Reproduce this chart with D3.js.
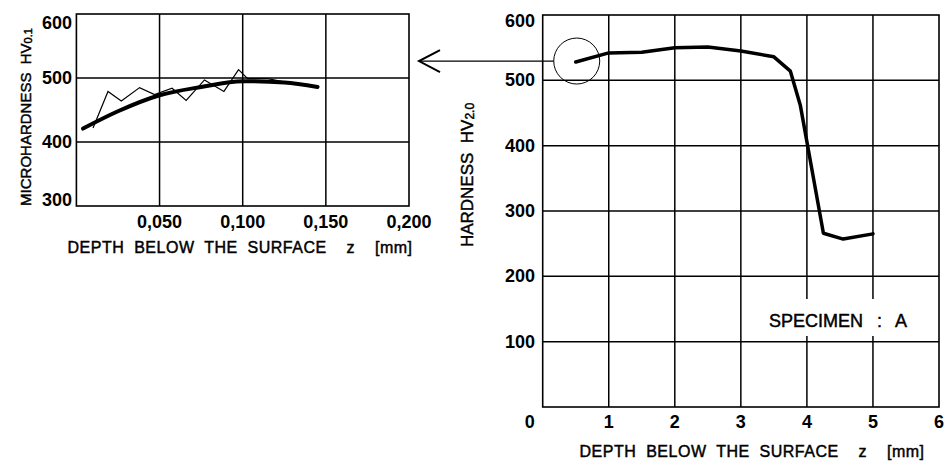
<!DOCTYPE html>
<html>
<head>
<meta charset="utf-8">
<script src="https://cdn.jsdelivr.net/npm/d3@7"></script>
<style>
  body { margin: 0; background: #fff; }
  svg { display: block; font-family: "Liberation Sans", Arial, sans-serif; }
  .medium { stroke: #000; stroke-width: 0.45px; }
</style>
</head>
<body>
<div id="chart"></div>
<script>
// Microhardness near the surface (left inset).
const microDepth = [0.010, 0.019, 0.027, 0.038, 0.047, 0.0575, 0.066, 0.077, 0.0887, 0.0975, 0.103, 0.115, 0.127];
const microHv = [422, 479, 464, 485, 474, 484, 465, 497, 479, 513, 499, 499, 493];
const fitDepth = [0.004, 0.025, 0.05, 0.075, 0.1, 0.125, 0.145];
const fitHv = [421, 448, 473, 486, 495, 493, 486];
const microXTicks = [0.05, 0.1, 0.15, 0.2];
const microYTicks = [300, 400, 500, 600];

// Hardness profile (right chart).
const depth = [0.5, 1.0, 1.5, 2.0, 2.5, 3.0, 3.5, 3.75, 3.9, 4.25, 4.55, 5.0];
const hardness = [528, 542, 543, 550, 551, 545, 536, 514, 462, 266, 257, 265];
const xTicks = [1, 2, 3, 4, 5, 6];
const yTicks = [100, 200, 300, 400, 500, 600];

const width = 945, height = 462;
const svg = d3.select('#chart').append('svg')
  .attr('width', width)
  .attr('height', height);

const tickFont = { size: '18px', weight: 'bold' };

function drawFrame(g, x, y, xGrid, yGrid) {
  /**
   * Grid lines and border of one plot.
   */
  const [x0, x1] = x.range();
  const [y0, y1] = y.range();
  g.selectAll('.vgrid').data(xGrid).join('line')
    .attr('x1', d => x(d)).attr('x2', d => x(d))
    .attr('y1', y0).attr('y2', y1)
    .attr('stroke', '#000').attr('stroke-width', 1.5);
  g.selectAll('.hgrid').data(yGrid).join('line')
    .attr('x1', x0).attr('x2', x1)
    .attr('y1', d => y(d)).attr('y2', d => y(d))
    .attr('stroke', '#000').attr('stroke-width', 1.5);
  g.append('rect')
    .attr('x', x0).attr('y', y1)
    .attr('width', x1 - x0).attr('height', y0 - y1)
    .attr('fill', 'none').attr('stroke', '#000').attr('stroke-width', 1.6);
}

function depthTitle(g, cx, y) {
  g.append('text')
    .attr('class', 'medium')
    .attr('x', cx).attr('y', y)
    .attr('text-anchor', 'middle').attr('font-size', '16px')
    .attr('letter-spacing', '0.5px').attr('word-spacing', '5px')
    .attr('xml:space', 'preserve')
    .text('DEPTH BELOW THE SURFACE  z  [mm]');
}

// ---- Left inset ----
const xL = d3.scaleLinear().domain([0, 0.2]).range([76.4, 409]);
const yL = d3.scaleLinear().domain([300, 600]).range([206, 14]);
const left = svg.append('g');

left.append('g').call(g => drawFrame(g, xL, yL, [0.05, 0.1, 0.15], [400, 500]));

const fmtComma = d => d3.format('.3f')(d).replace('.', ',');
left.selectAll('.xt').data(microXTicks).join('text')
  .attr('x', d => xL(d)).attr('y', 228)
  .attr('text-anchor', 'middle')
  .attr('font-size', tickFont.size).attr('font-weight', tickFont.weight)
  .text(fmtComma);
left.selectAll('.yt').data(microYTicks).join('text')
  .attr('x', 72).attr('y', d => Math.min(Math.max(yL(d), 23), 200))
  .attr('text-anchor', 'end').attr('dominant-baseline', 'central')
  .attr('font-size', tickFont.size).attr('font-weight', tickFont.weight)
  .text(d => d);

// Measured points (thin) and fitted curve (thick).
left.append('path')
  .datum(d3.zip(microDepth, microHv))
  .attr('fill', 'none').attr('stroke', '#000').attr('stroke-width', 1.2)
  .attr('d', d3.line().x(d => xL(d[0])).y(d => yL(d[1])));
left.append('path')
  .datum(d3.zip(fitDepth, fitHv))
  .attr('fill', 'none').attr('stroke', '#000').attr('stroke-width', 4)
  .attr('stroke-linecap', 'round')
  .attr('d', d3.line().curve(d3.curveMonotoneX).x(d => xL(d[0])).y(d => yL(d[1])));

depthTitle(left, 240, 253);

const yTitleL = left.append('text')
  .attr('class', 'medium')
  .attr('transform', 'translate(31,117) rotate(-90)')
  .attr('text-anchor', 'middle').attr('font-size', '15px');
yTitleL.append('tspan').text('MICROHARDNESS  HV').attr('xml:space', 'preserve');
yTitleL.append('tspan').attr('font-size', '11px').attr('dy', 1).text('0.1');

// ---- Right chart ----
const xR = d3.scaleLinear().domain([0, 6]).range([542.7, 939]);
const yR = d3.scaleLinear().domain([0, 600]).range([407, 15]);
const right = svg.append('g');

right.append('g').call(g => drawFrame(g, xR, yR, [1, 2, 3, 4, 5], [100, 200, 300, 400, 500]));

// Label box masks the grid.
right.append('rect')
  .attr('x', 758).attr('y', 299).attr('width', 160).attr('height', 37)
  .attr('fill', '#fff');
right.append('text')
  .attr('class', 'medium')
  .attr('x', 838).attr('y', 327)
  .attr('text-anchor', 'middle').attr('font-size', '18px')
  .attr('word-spacing', '2px').attr('xml:space', 'preserve')
  .text('SPECIMEN  :  A');

right.selectAll('.xt').data(xTicks).join('text')
  .attr('x', d => xR(d)).attr('y', 428)
  .attr('text-anchor', 'middle')
  .attr('font-size', tickFont.size).attr('font-weight', tickFont.weight)
  .text(d => d);
right.append('text')
  .attr('x', xR(0) - 8).attr('y', 428)
  .attr('text-anchor', 'end')
  .attr('font-size', tickFont.size).attr('font-weight', tickFont.weight)
  .text('0');
right.selectAll('.yt').data(yTicks).join('text')
  .attr('x', 535).attr('y', d => Math.max(yR(d), 21))
  .attr('text-anchor', 'end').attr('dominant-baseline', 'central')
  .attr('font-size', tickFont.size).attr('font-weight', tickFont.weight)
  .text(d => d);

right.append('path')
  .datum(d3.zip(depth, hardness))
  .attr('fill', 'none').attr('stroke', '#000').attr('stroke-width', 3.5)
  .attr('stroke-linejoin', 'round').attr('stroke-linecap', 'round')
  .attr('d', d3.line().x(d => xR(d[0])).y(d => yR(d[1])));

depthTitle(right, 752, 457);

const yTitleR = right.append('text')
  .attr('class', 'medium')
  .attr('transform', 'translate(473,175) rotate(-90)')
  .attr('text-anchor', 'middle').attr('font-size', '17px');
yTitleR.append('tspan').text('HARDNESS  HV').attr('xml:space', 'preserve');
yTitleR.append('tspan').attr('font-size', '12px').attr('dy', 1).text('2.0');

// ---- Circle on the first point and arrow to the inset ----
const cx = xR(depth[0]) + 1, cy = yR(hardness[0]) - 1;
svg.append('circle')
  .attr('cx', cx).attr('cy', cy).attr('r', 23)
  .attr('fill', 'none').attr('stroke', '#000').attr('stroke-width', 1);
svg.append('line')
  .attr('x1', cx - 23).attr('x2', 419)
  .attr('y1', cy).attr('y2', cy)
  .attr('stroke', '#000').attr('stroke-width', 1.2);
svg.append('path')
  .attr('d', `M440,${cy - 11}L419,${cy}L440,${cy + 11}`)
  .attr('fill', 'none').attr('stroke', '#000').attr('stroke-width', 2);
</script>
</body>
</html>
